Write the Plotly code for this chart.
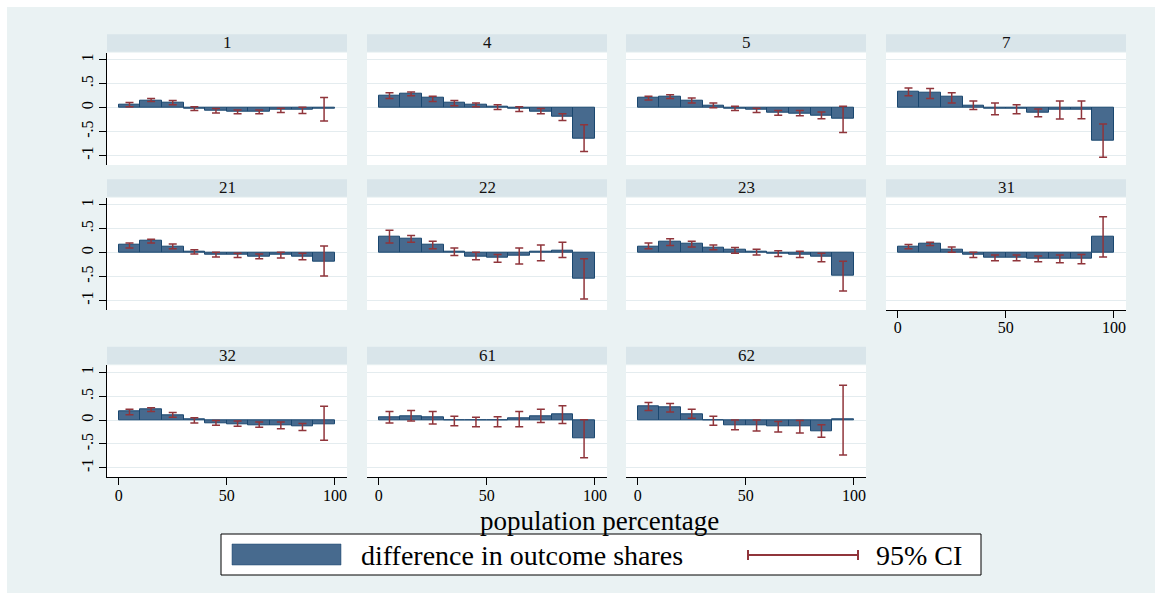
import plotly.graph_objects as go

# ---------------- data ----------------
groups = ["1", "4", "5", "7", "21", "22", "23", "31", "32", "61", "62"]
bin_centers = [5, 15, 25, 35, 45, 55, 65, 75, 85, 95]
x_ticks = [0, 50, 100]
y_ticks = [-1, -0.5, 0, 0.5, 1]
y_tick_labels = ["-1", "-.5", "0", ".5", "1"]

diff_1 = [0.06, 0.15, 0.11, -0.03, -0.07, -0.09, -0.09, -0.04, -0.04, -0.03]
lo_1 = [0.02, 0.13, 0.06, -0.06, -0.11, -0.13, -0.13, -0.10, -0.12, -0.28]
hi_1 = [0.11, 0.19, 0.15, 0.02, -0.02, -0.05, -0.05, -0.01, 0.01, 0.21]

diff_4 = [0.25, 0.29, 0.20, 0.10, 0.07, 0.02, -0.03, -0.08, -0.19, -0.64]
lo_4 = [0.19, 0.25, 0.13, 0.04, 0.02, -0.04, -0.08, -0.13, -0.27, -0.92]
hi_4 = [0.31, 0.33, 0.24, 0.15, 0.10, 0.06, 0.02, -0.02, -0.13, -0.36]

diff_5 = [0.21, 0.23, 0.15, 0.05, -0.02, -0.04, -0.11, -0.13, -0.17, -0.24]
lo_5 = [0.16, 0.19, 0.10, 0.00, -0.06, -0.10, -0.16, -0.17, -0.23, -0.52]
hi_5 = [0.24, 0.27, 0.20, 0.10, 0.03, -0.01, -0.06, -0.06, -0.09, 0.03]

diff_7 = [0.34, 0.31, 0.22, 0.05, -0.02, -0.03, -0.10, -0.04, -0.04, -0.69]
lo_7 = [0.25, 0.19, 0.10, -0.04, -0.15, -0.13, -0.19, -0.24, -0.23, -1.04]
hi_7 = [0.41, 0.40, 0.31, 0.14, 0.10, 0.06, -0.03, 0.14, 0.14, -0.34]

diff_21 = [0.16, 0.24, 0.13, 0.01, -0.04, -0.04, -0.08, -0.05, -0.08, -0.18]
lo_21 = [0.10, 0.20, 0.08, -0.03, -0.09, -0.10, -0.13, -0.11, -0.15, -0.49]
hi_21 = [0.20, 0.28, 0.18, 0.06, 0.01, -0.01, -0.03, 0.01, -0.01, 0.14]

diff_22 = [0.34, 0.29, 0.16, 0.03, -0.08, -0.10, -0.06, 0.01, 0.05, -0.54]
lo_22 = [0.20, 0.22, 0.08, -0.06, -0.15, -0.20, -0.24, -0.17, -0.10, -0.97]
hi_22 = [0.47, 0.36, 0.24, 0.10, 0.01, -0.04, 0.10, 0.16, 0.22, -0.13]

diff_23 = [0.13, 0.22, 0.18, 0.11, 0.06, 0.02, -0.02, -0.04, -0.09, -0.49]
lo_23 = [0.08, 0.15, 0.12, 0.06, -0.01, -0.05, -0.08, -0.10, -0.19, -0.80]
hi_23 = [0.20, 0.29, 0.24, 0.16, 0.11, 0.07, 0.04, 0.03, -0.01, -0.18]

diff_31 = [0.13, 0.18, 0.06, -0.04, -0.10, -0.10, -0.13, -0.13, -0.13, 0.34]
lo_31 = [0.08, 0.15, 0.01, -0.10, -0.17, -0.17, -0.19, -0.21, -0.23, -0.09]
hi_31 = [0.17, 0.22, 0.12, 0.01, -0.05, -0.05, -0.07, -0.05, -0.04, 0.75]

diff_32 = [0.18, 0.22, 0.11, 0.01, -0.07, -0.08, -0.10, -0.11, -0.14, -0.08]
lo_32 = [0.11, 0.18, 0.06, -0.06, -0.11, -0.13, -0.15, -0.18, -0.22, -0.42]
hi_32 = [0.23, 0.26, 0.16, 0.05, -0.01, -0.02, -0.04, -0.04, -0.07, 0.29]

diff_61 = [0.06, 0.09, 0.05, -0.01, -0.01, -0.01, 0.04, 0.09, 0.12, -0.39]
lo_61 = [-0.06, -0.02, -0.08, -0.12, -0.14, -0.14, -0.14, -0.05, -0.07, -0.79]
hi_61 = [0.18, 0.20, 0.18, 0.08, 0.06, 0.07, 0.18, 0.23, 0.30, 0.01]

diff_62 = [0.28, 0.26, 0.13, -0.01, -0.10, -0.11, -0.13, -0.13, -0.23, 0.01]
lo_62 = [0.20, 0.17, 0.04, -0.11, -0.20, -0.23, -0.25, -0.27, -0.36, -0.73]
hi_62 = [0.37, 0.35, 0.23, 0.08, 0.00, 0.00, -0.03, -0.01, -0.10, 0.73]

x_title = "population percentage"
legend_bar_label = "difference in outcome shares"
legend_ci_label = "95% CI"

series = {
    "1": (diff_1, lo_1, hi_1), "4": (diff_4, lo_4, hi_4), "5": (diff_5, lo_5, hi_5),
    "7": (diff_7, lo_7, hi_7), "21": (diff_21, lo_21, hi_21), "22": (diff_22, lo_22, hi_22),
    "23": (diff_23, lo_23, hi_23), "31": (diff_31, lo_31, hi_31), "32": (diff_32, lo_32, hi_32),
    "61": (diff_61, lo_61, hi_61), "62": (diff_62, lo_62, hi_62),
}

# ---------------- style / layout ----------------
W, H = 1162, 599
FONT = "Liberation Serif"
BAR_FILL = "#476A8E"
BAR_LINE = "#1A476F"
CI_COL = "#90353B"
BG = "#EAF2F3"
STRIP = "#D9E5EA"
GRID = "#E4ECEF"

col_px = [(107, 347), (367, 607), (626, 866), (886, 1126)]
row_px = [(52.7, 165), (197.7, 310), (365.3, 477.3)]
STRIP_H = 17.5


def fx(px):
    return px / W


def fy(py):
    return 1 - py / H


fig = go.Figure()
layout = dict(
    width=W, height=H, autosize=False,
    margin=dict(l=0, r=0, t=0, b=0),
    paper_bgcolor="white", plot_bgcolor="rgba(0,0,0,0)",
    showlegend=False, font=dict(family=FONT, color="#000000"),
    bargap=0,
)

shapes = [dict(type="rect", xref="paper", yref="paper", x0=fx(7), x1=fx(1155),
               y0=fy(593), y1=fy(7), fillcolor=BG, line=dict(width=0), layer="below")]
annotations = []

bottom_panels = {"31", "32", "61", "62"}

for i, g in enumerate(groups):
    r, c = divmod(i, 4)
    k = i + 1
    x0, x1 = col_px[c]
    y0, y1 = row_px[r]
    xa = "xaxis" if k == 1 else f"xaxis{k}"
    ya = "yaxis" if k == 1 else f"yaxis{k}"
    xr = "x" if k == 1 else f"x{k}"
    yr = "y" if k == 1 else f"y{k}"

    shapes.append(dict(type="rect", xref="paper", yref="paper", x0=fx(x0), x1=fx(x1),
                       y0=fy(y1), y1=fy(y0), fillcolor="white", line=dict(width=0), layer="below"))
    shapes.append(dict(type="rect", xref="paper", yref="paper", x0=fx(x0), x1=fx(x1),
                       y0=fy(y0 - 1), y1=fy(y0 - 1 - STRIP_H), fillcolor=STRIP,
                       line=dict(width=0), layer="below"))
    annotations.append(dict(text=g, xref="paper", yref="paper", x=fx((x0 + x1) / 2),
                            y=fy(y0 - 1 - STRIP_H / 2), showarrow=False, xanchor="center",
                            yanchor="middle", font=dict(family=FONT, size=17, color="#111111")))

    is_bottom = g in bottom_panels
    layout[xa] = dict(
        domain=[fx(x0), fx(x1)], anchor=yr, range=[-5.4, 105.6],
        showgrid=False, zeroline=False,
        showline=is_bottom, linecolor="#000000", linewidth=1,
        ticks="outside" if is_bottom else "", ticklen=7, tickcolor="#000000",
        tickvals=x_ticks, showticklabels=is_bottom, ticklabelstandoff=-4,
        tickfont=dict(family=FONT, size=16, color="#000000"),
    )
    first_col = c == 0
    layout[ya] = dict(
        domain=[fy(y1), fy(y0)], anchor=xr, range=[-1.2, 1.15],
        showgrid=True, gridcolor=GRID, gridwidth=1, zeroline=False,
        tickvals=y_ticks, ticktext=y_tick_labels,
        showline=first_col, linecolor="#000000", linewidth=1,
        ticks="outside" if first_col else "", ticklen=7, tickcolor="#000000",
        showticklabels=first_col, tickangle=-90,
        tickfont=dict(family=FONT, size=16, color="#000000"),
    )

    d, lo, hi = series[g]
    fig.add_trace(go.Bar(
        x=bin_centers, y=d, width=10, xaxis=xr, yaxis=yr,
        marker=dict(color=BAR_FILL, line=dict(color=BAR_LINE, width=1)),
        error_y=dict(type="data", symmetric=False,
                     array=[h - v for h, v in zip(hi, d)],
                     arrayminus=[v - l for v, l in zip(d, lo)],
                     color=CI_COL, thickness=1.5, width=4),
        hoverinfo="skip",
    ))

# x-axis title
annotations.append(dict(text=x_title, xref="paper", yref="paper", x=fx(599), y=fy(521),
                        showarrow=False, xanchor="center", yanchor="middle",
                        font=dict(family=FONT, size=27, color="#000000")))

# legend (drawn as layout decoration)
shapes.append(dict(type="rect", xref="paper", yref="paper", x0=fx(221), x1=fx(981),
                   y0=fy(575), y1=fy(534), fillcolor="white",
                   line=dict(color="#000000", width=1), layer="above"))
shapes.append(dict(type="rect", xref="paper", yref="paper", x0=fx(232), x1=fx(341),
                   y0=fy(565), y1=fy(544), fillcolor=BAR_FILL,
                   line=dict(color=BAR_LINE, width=0.5), layer="above"))
annotations.append(dict(text=legend_bar_label, xref="paper", yref="paper", x=fx(359), y=fy(555),
                        showarrow=False, xanchor="left", yanchor="middle",
                        font=dict(family=FONT, size=28, color="#000000")))
shapes.append(dict(type="line", xref="paper", yref="paper", x0=fx(748), x1=fx(858),
                   y0=fy(555), y1=fy(555), line=dict(color=CI_COL, width=2), layer="above"))
for cx in (748, 858):
    shapes.append(dict(type="line", xref="paper", yref="paper", x0=fx(cx), x1=fx(cx),
                       y0=fy(550), y1=fy(560), line=dict(color=CI_COL, width=2), layer="above"))
annotations.append(dict(text=legend_ci_label, xref="paper", yref="paper", x=fx(874), y=fy(555),
                        showarrow=False, xanchor="left", yanchor="middle",
                        font=dict(family=FONT, size=28, color="#000000")))

layout["shapes"] = shapes
layout["annotations"] = annotations
fig.update_layout(**layout)
fig.write_html("out.html")
